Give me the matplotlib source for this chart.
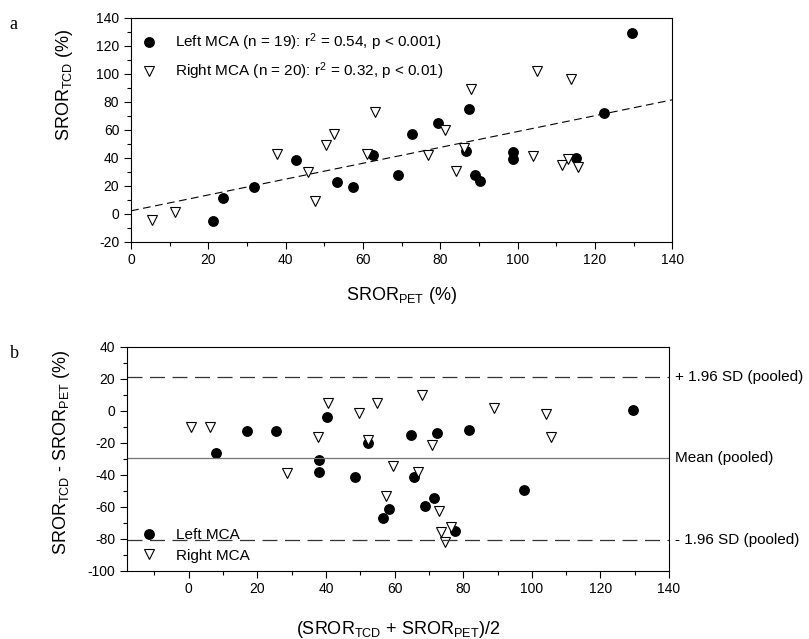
import matplotlib
matplotlib.use('Agg')
import matplotlib.pyplot as plt
from matplotlib.ticker import MultipleLocator

plt.rcParams['font.family'] = ['Liberation Sans', 'DejaVu Sans']
plt.rcParams['mathtext.fontset'] = 'custom'
plt.rcParams['mathtext.rm'] = 'Liberation Sans'
plt.rcParams['mathtext.it'] = 'Liberation Sans:italic'
plt.rcParams['axes.unicode_minus'] = False

# panel a: SROR_TCD vs SROR_PET
left_pet = [21.1, 23.7, 31.9, 42.6, 53.4, 57.3, 69.0, 72.6, 62.5, 79.5,
            87.3, 86.6, 88.9, 90.2, 98.8, 98.8, 115.2, 122.4, 129.7]
left_tcd = [-5.2, 10.8, 18.9, 38.2, 22.9, 18.9, 27.7, 57.0, 42.0, 65.1,
            75.1, 45.1, 27.7, 23.2, 44.4, 38.9, 39.7, 72.3, 129.3]
right_pet = [5.5, 11.4, 37.7, 45.7, 47.7, 50.3, 52.5, 61.0, 63.1, 76.7,
             84.1, 81.3, 86.0, 87.9, 105.0, 113.9, 104.0, 111.4, 113.0, 115.7]
right_tcd = [-4.5, 1.2, 42.7, 29.4, 9.3, 49.0, 57.0, 42.7, 72.5, 41.8,
             30.8, 59.9, 47.2, 89.0, 102.3, 96.6, 41.3, 34.9, 39.2, 33.2]
fit_intercept = 2.0
fit_slope = 0.567

# panel b: Bland-Altman
left_mean = [7.8, 17.0, 25.4, 40.4, 38.0, 38.0, 48.4, 52.2, 56.6, 58.3,
             64.7, 65.6, 68.8, 71.4, 72.5, 77.6, 81.7, 97.7, 129.5]
left_diff = [-26.5, -12.9, -12.9, -4.1, -30.5, -38.4, -41.1, -20.0, -67.0, -61.4,
             -15.4, -41.3, -59.3, -54.5, -13.9, -75.0, -12.0, -49.5, 0.3]
right_mean = [0.6, 6.1, 28.7, 37.7, 40.5, 49.7, 52.2, 54.9, 59.4, 57.6,
              66.9, 68.0, 70.8, 73.0, 73.4, 74.6, 76.4, 89.0, 104.0, 105.6]
right_diff = [-10.4, -10.4, -38.6, -16.2, 5.1, -1.4, -18.1, 4.7, -34.8, -53.0,
              -38.0, 9.7, -21.3, -62.4, -75.8, -82.3, -72.9, 1.7, -2.2, -16.4]
mean_pooled = -29.6
upper_sd = 21.0
lower_sd = -81.0

fig = plt.figure(figsize=(8.09, 6.39), dpi=100)

circ = dict(marker='o', ls='none', ms=6.8, mfc='black', mec='black')
tri = dict(marker='v', ls='none', ms=6.8, mfc='white', mec='black', mew=0.8)

def style(ax):
    ax.tick_params(which='both', direction='out', labelsize=10)
    ax.tick_params(which='major', length=5, width=0.8)
    ax.tick_params(which='minor', length=3, width=0.8)
    ax.xaxis.set_minor_locator(MultipleLocator(10))
    ax.yaxis.set_minor_locator(MultipleLocator(10))
    ax.xaxis.set_major_locator(MultipleLocator(20))
    ax.yaxis.set_major_locator(MultipleLocator(20))

# ---- panel a
ax1 = fig.add_axes([0.162, 0.622, 0.669, 0.350])
ax1.plot(left_pet, left_tcd, label='Left MCA (n = 19): r$^2$ = 0.54, p < 0.001)', **circ)
ax1.plot(right_pet, right_tcd, label='Right MCA (n = 20): r$^2$ = 0.32, p < 0.01)', **tri)
xs = [0, 140]
ax1.plot(xs, [fit_intercept + fit_slope * x for x in xs], color='black', lw=0.8,
         dashes=(7, 4))
ax1.set_xlim(0, 140)
ax1.set_ylim(-20, 140)
style(ax1)
ax1.set_xlabel('SROR$_{\\mathrm{PET}}$ (%)', fontsize=13, labelpad=13)
ax1.set_ylabel('SROR$_{\\mathrm{TCD}}$ (%)', fontsize=13)
ax1.yaxis.set_label_coords(-0.103, 0.70)
ax1.legend(loc='upper left', bbox_to_anchor=(0.0, 0.965), frameon=False, fontsize=11,
           handletextpad=1.0, borderaxespad=0.0, labelspacing=0.45, handlelength=1.5)
fig.text(0.012, 0.975, 'a', family='Liberation Serif', fontsize=13, va='top')

# ---- panel b
ax2 = fig.add_axes([0.157, 0.107, 0.670, 0.350])
ax2.plot(left_mean, left_diff, label='Left MCA', **circ)
ax2.plot(right_mean, right_diff, label='Right MCA', **tri)
ax2.axhline(mean_pooled, color='0.45', lw=0.9)
ax2.axhline(upper_sd, color='0.2', lw=0.9, dashes=(12, 6))
ax2.axhline(lower_sd, color='0.2', lw=0.9, dashes=(12, 6))
ax2.set_xlim(-18, 140)
ax2.set_ylim(-100, 40)
style(ax2)
ax2.set_xlabel('(SROR$_{\\mathrm{TCD}}$ + SROR$_{\\mathrm{PET}}$)/2', fontsize=13, labelpad=16)
ax2.set_ylabel('SROR$_{\\mathrm{TCD}}$ - SROR$_{\\mathrm{PET}}$ (%)', fontsize=13)
ax2.yaxis.set_label_coords(-0.102, 0.53)
ax2.legend(loc='lower left', bbox_to_anchor=(0.009, 0.008), frameon=False, fontsize=11,
           handletextpad=1.0, borderaxespad=0.0, labelspacing=0.45, handlelength=1.5)
for yv, txt in [(upper_sd, '+ 1.96 SD (pooled)'), (mean_pooled, 'Mean (pooled)'),
                (lower_sd, '- 1.96 SD (pooled)')]:
    ax2.annotate(txt, xy=(1, yv), xycoords=('axes fraction', 'data'),
                 xytext=(4, 0), textcoords='offset points', va='center', fontsize=11)
fig.text(0.012, 0.46, 'b', family='Liberation Serif', fontsize=13, va='top')

fig.savefig('out.png', dpi=100)
